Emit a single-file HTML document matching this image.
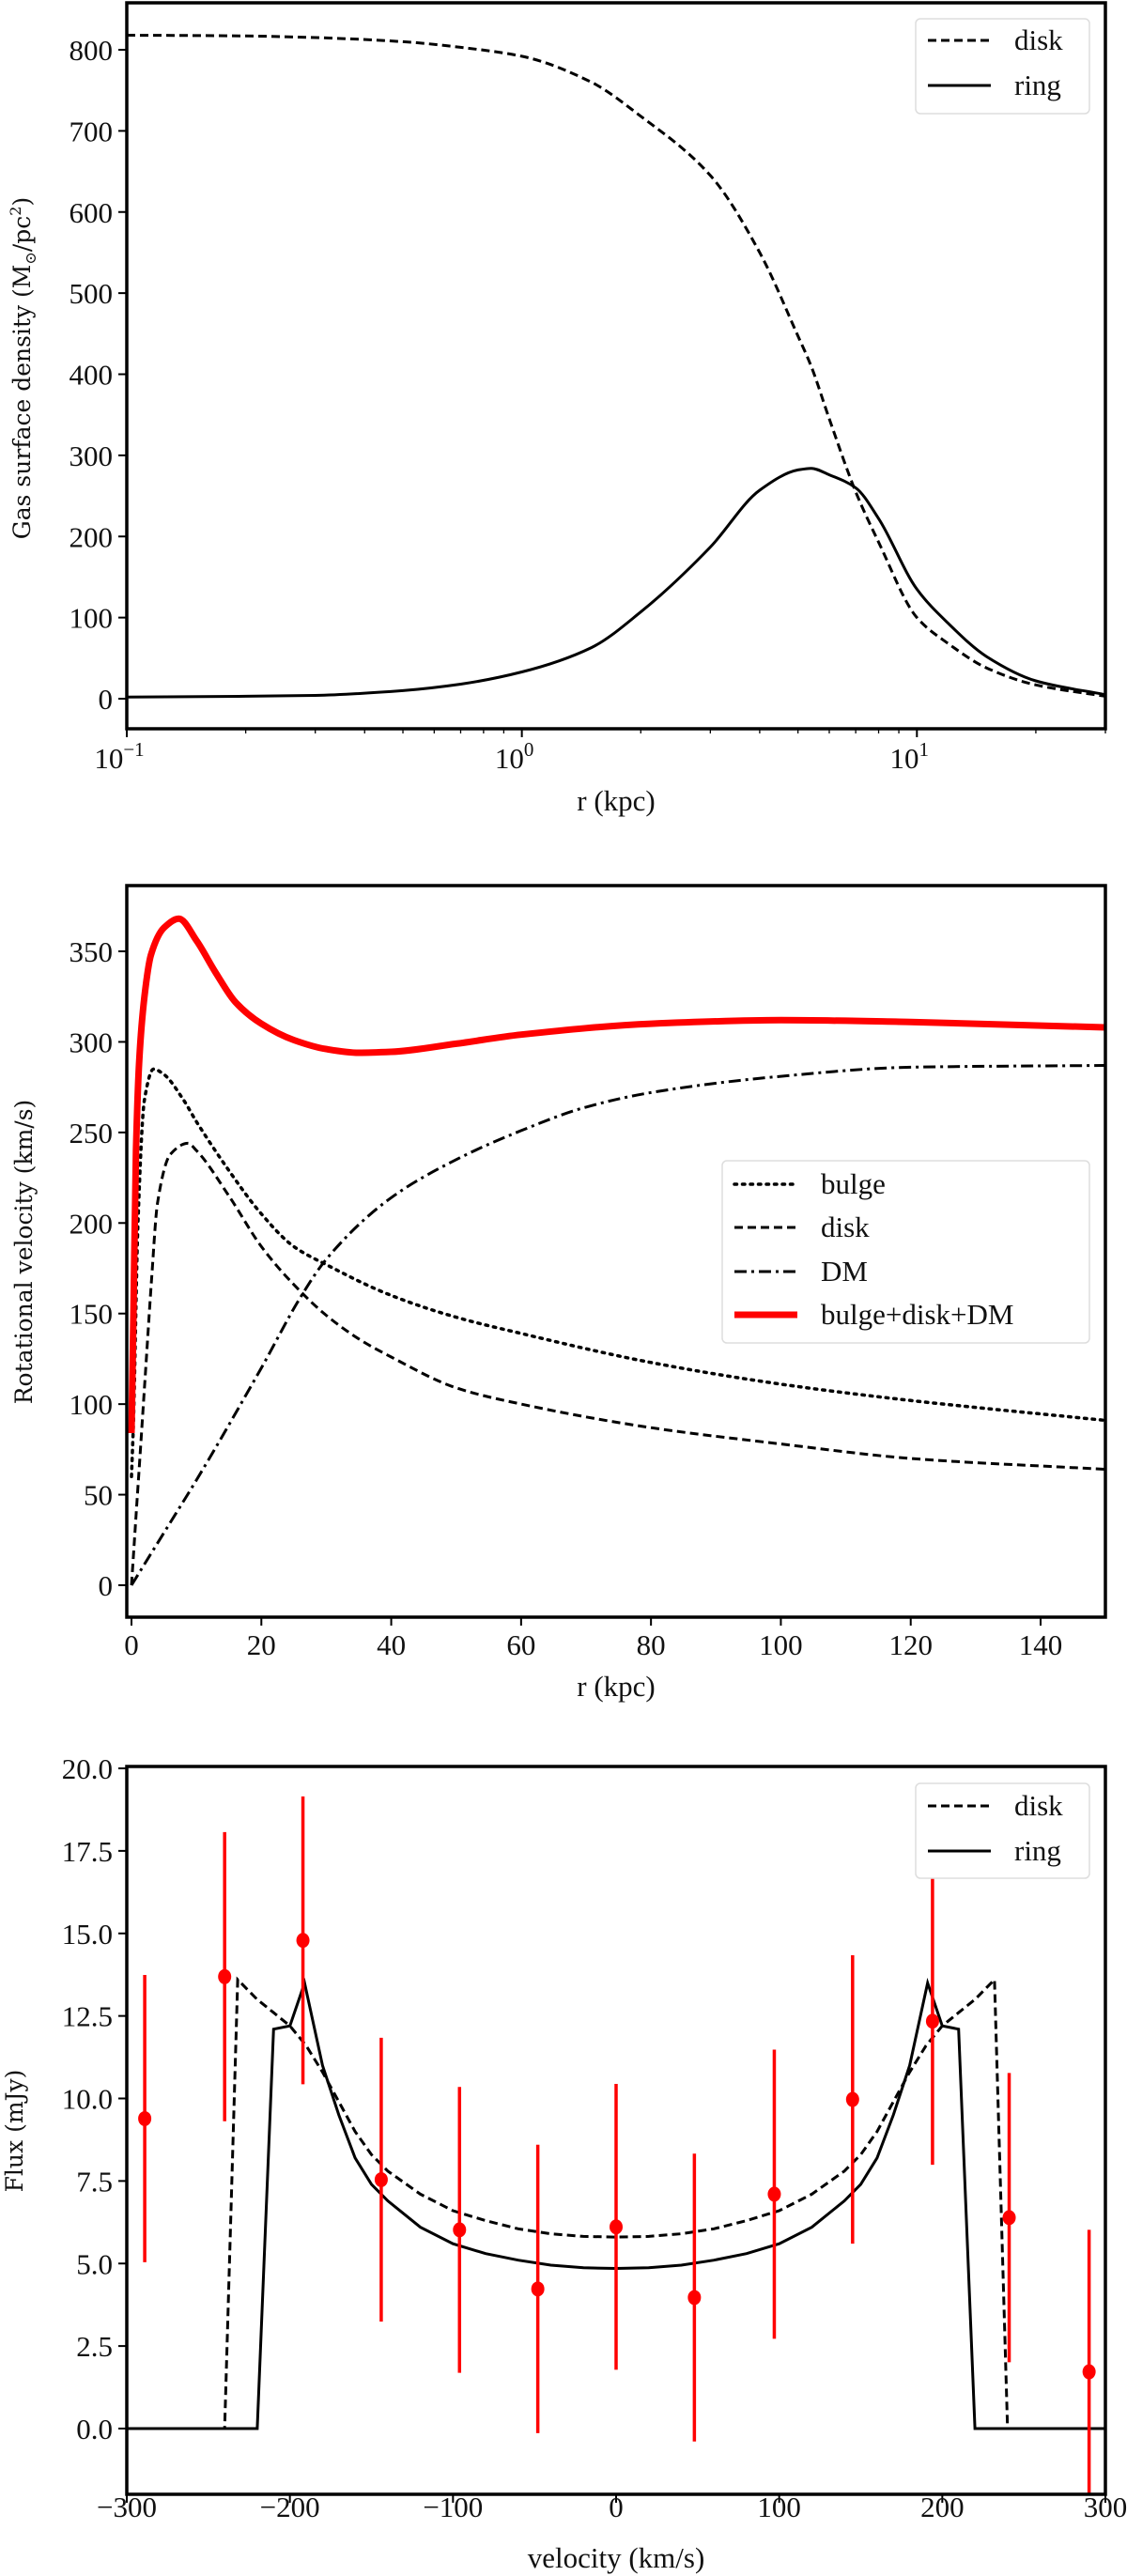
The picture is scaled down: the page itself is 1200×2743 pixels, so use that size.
<!DOCTYPE html>
<html><head><meta charset="utf-8"><style>
html,body{margin:0;padding:0;background:#fff}
svg{display:block}
text{font-family:"Liberation Serif","DejaVu Serif",serif;fill:#111}
.tk{font-size:31px}
.lab{font-family:"DejaVu Serif","Liberation Serif",serif;font-size:25px}
.xl{font-size:31px}
.lg{font-size:31px}
</style></head><body>
<svg id="fig" width="1200" height="2743" viewBox="0 0 1200 2743" xmlns="http://www.w3.org/2000/svg">
<rect width="1200" height="2743" fill="#fff"/>
<g id="p1"></g>
<g id="p2"></g>
<g id="p3"></g>
</svg>
<script>
// ---- Panel 1 data ----
const p1R = [0.1,0.2,0.3,0.5,0.7,1,1.5,2,3,4,5,5.4,6,7,8,10,12,15,20,30];
const p1Disk = [818,817,815,810,803,792,760,718,645,550,447,410,345,255,193,100,68,38,17,3];
const p1Ring = [2,3,4,10,18,33,63,107,187,257,282,284,276,260,222,135,93,52,22,5];
const p1YTicks = [0,100,200,300,400,500,600,700,800];
const p1XTickExp = [-1,0,1];
// ---- Panel 2 data ----
const p2R = [0,0.3,0.7,1.2,2,3,5,7.3,10,13,16,20,25,30,35,40,50,60,80,100,120,150];
const p2Total = [84,150,240,290,325,348,363,368,356,338,322,310,301,296,294,294.5,299,304,310,312,311,308];
const p2BulgeR = [0,0.3,1,2,3.4,5,8,10,15,20,25,30,40,50,60,80,100,120,150];
const p2Bulge = [60,90,200,268,285,282,268,256,229,205,187,177,160,148,139,123,111,102,91];
const p2DiskR = [0,0.9,2,3.1,4,6,8.7,10,15,20,25,30,35,40,50,60,80,100,120,150];
const p2Disk = [0,49,109,169,211,238,244,240,215,187,166,149,136,126,109,100,87,78,70,64];
const p2DMR = [0,5,10,20,26.2,30,40,50,60,70,80,100,120,150];
const p2DM = [0,29,58,120,160,180,214,235,251,264,272,281,286,287];
const p2YTicks = [0,50,100,150,200,250,300,350];
const p2XTicks = [0,20,40,60,80,100,120,140];
// ---- Panel 3 data ----
const p3V = [-289,-240,-192,-144,-96,-48,0,48,97,145,194,241,290];
const p3Flux = [9.39,13.69,14.79,7.54,6.02,4.23,6.11,3.97,7.1,9.97,12.34,6.39,1.72];
const p3Err = [4.35,4.38,4.36,4.3,4.33,4.37,4.33,4.36,4.38,4.37,4.35,4.38,4.3];
const p3DiskV = [-300,-240,-232,-220,-210,-200,-190,-180,-170,-160,-150,-140,-120,-100,-80,-60,-40,-20,0,20,40,60,80,100,120,140,150,160,170,180,190,200,210,220,232,240,300];
const p3Disk = [0,0,13.6,13.0,12.6,12.2,11.6,10.8,9.9,9.0,8.3,7.8,7.1,6.6,6.3,6.05,5.9,5.82,5.8,5.82,5.9,6.05,6.3,6.6,7.1,7.8,8.3,9.0,9.9,10.8,11.6,12.2,12.6,13.0,13.6,0,0];
const p3RingV = [-300,-220,-210,-200,-191,-180,-170,-160,-150,-140,-120,-100,-80,-60,-40,-20,0,20,40,60,80,100,120,140,150,160,170,180,191,200,210,220,300];
const p3Ring = [0,0,12.1,12.2,13.5,11.0,9.5,8.2,7.4,6.9,6.1,5.6,5.3,5.1,4.95,4.87,4.85,4.87,4.95,5.1,5.3,5.6,6.1,6.9,7.4,8.2,9.5,11.0,13.5,12.2,12.1,0,0];
const p3YTicks = [0,2.5,5,7.5,10,12.5,15,17.5,20];
const p3XTicks = [-300,-200,-100,0,100,200,300];

const NS = "http://www.w3.org/2000/svg";
function mk(parent, tag, attrs, txt){
  const e = document.createElementNS(NS, tag);
  for (const k in attrs) e.setAttribute(k, attrs[k]);
  if (txt !== undefined) e.textContent = txt;
  parent.appendChild(e); return e;
}
// monotone cubic (Fritsch-Carlson) in screen coords, sampled densely
function smoothPath(pts){
  const n=pts.length, xs=pts.map(p=>p[0]), ys=pts.map(p=>p[1]);
  const dx=[],s=[];
  for(let i=0;i<n-1;i++){dx.push(xs[i+1]-xs[i]); s.push((ys[i+1]-ys[i])/dx[i]);}
  const m=new Array(n);
  m[0]=s[0]; m[n-1]=s[n-2];
  for(let i=1;i<n-1;i++){
    if(s[i-1]*s[i]<=0) m[i]=0;
    else { const w1=2*dx[i]+dx[i-1], w2=dx[i]+2*dx[i-1]; m[i]=(w1+w2)/(w1/s[i-1]+w2/s[i]); }
  }
  let d="M"+xs[0].toFixed(1)+","+ys[0].toFixed(1);
  for(let i=0;i<n-1;i++){
    const h=dx[i];
    d+=" C"+(xs[i]+h/3).toFixed(1)+","+(ys[i]+m[i]*h/3).toFixed(1)+" "+(xs[i+1]-h/3).toFixed(1)+","+(ys[i+1]-m[i+1]*h/3).toFixed(1)+" "+xs[i+1].toFixed(1)+","+ys[i+1].toFixed(1);
  }
  return d;
}
function linePath(pts){ return pts.map((p,i)=>(i?"L":"M")+p[0].toFixed(1)+","+p[1].toFixed(1)).join(" "); }
function frame(g, L, T, R, B){
  const f = mk(g,"rect",{x:L,y:T,width:R-L,height:B-T,fill:"none",stroke:"#000","stroke-width":3.5});
  
  
}
function legend(g, x, y, w, h, entries, rowY){
  const box = mk(g,"rect",{x:x,y:y,width:w,height:h,rx:5,fill:"#fff",stroke:"#ddd","stroke-width":1.5});
  
  
  entries.forEach((en,i)=>{
    const ly=rowY[i];
    const ln = mk(g,"line",Object.assign({x1:x+13,x2:x+80,y1:ly,y2:ly,stroke:en.c},en.style));
    
    
    const t = mk(g,"text",{x:x+105,y:ly+10,class:"lg"},en.label);
    
    
  });
}
const DASH={"stroke-dasharray":"9,5","stroke-width":3,fill:"none"};
const SOLID={"stroke-width":3,fill:"none"};

// ===== Panel 1 =====
(function(){
  const g=document.getElementById("p1");
  const L=135,R=1177,T=3,B=776;
  const lx0=Math.log10(0.1), lx1=Math.log10(30);
  const X=v=>L+(Math.log10(v)-lx0)/(lx1-lx0)*(R-L);
  const Y=v=>744-v*(744-53)/800;
  p1YTicks.forEach(v=>{
    const tl=mk(g,"line",{x1:L-9,x2:L,y1:Y(v),y2:Y(v),stroke:"#000","stroke-width":2});
    
    
    const t=mk(g,"text",{x:L-15,y:Y(v)+11,"text-anchor":"end",class:"tk"},String(v));
    
    
  });
  for(let e=-1;e<=1;e++){for(let m=1;m<10;m++){const v=m*Math.pow(10,e); if(v>30) break;
    const mt=mk(g,"line",{x1:X(v),x2:X(v),y1:B,y2:B+(m===1?9:5),stroke:"#000","stroke-width":m===1?2:1.3});
    
    
  }}
  p1XTickExp.forEach(e=>{
    const t=mk(g,"text",{x:X(Math.pow(10,e))-8,y:818,"text-anchor":"middle",class:"tk"},"10");
    mk(t,"tspan",{dy:-13,"font-size":"21px"},e<0?"−"+(-e):String(e));
    
    
  });
  const pd=p1R.map((r,i)=>[X(r),Y(p1Disk[i])]);
  const pr=p1R.map((r,i)=>[X(r),Y(p1Ring[i])]);
  const a=mk(g,"path",Object.assign({d:smoothPath(pd),stroke:"#000"},DASH));
  
  
  const b=mk(g,"path",Object.assign({d:smoothPath(pr),stroke:"#000"},SOLID));
  
  
  frame(g,L,T,R,B);
  const xl=mk(g,"text",{x:656,y:863,"text-anchor":"middle",class:"xl"},"r (kpc)");
  
  
  const yl=mk(g,"text",{x:0,y:0,"text-anchor":"middle",class:"lab",transform:"translate(32,392) rotate(-90)"},"Gas surface density (M");
  mk(yl,"tspan",{"font-size":"16px",dy:6},"⊙");
  mk(yl,"tspan",{dy:-6},"/pc");
  mk(yl,"tspan",{"font-size":"16px",dy:-10},"2");
  mk(yl,"tspan",{dy:10},")");
  
  
  legend(g,975,20,185,101,[{id:"disk",label:"disk",c:"#000",style:DASH},{id:"ring",label:"ring",c:"#000",style:SOLID}],[43,91]);
})();

// ===== Panel 2 =====
(function(){
  const g=document.getElementById("p2");
  const L=135,R=1177,T=943,B=1722;
  const X=v=>140+v*(1108-140)/140;
  const Y=v=>1688-v*(1688-1013)/350;
  p2YTicks.forEach(v=>{
    const tl=mk(g,"line",{x1:L-9,x2:L,y1:Y(v),y2:Y(v),stroke:"#000","stroke-width":2});
    
    
    const t=mk(g,"text",{x:L-15,y:Y(v)+11,"text-anchor":"end",class:"tk"},String(v));
    
    
  });
  p2XTicks.forEach(v=>{
    const tl=mk(g,"line",{x1:X(v),x2:X(v),y1:B,y2:B+9,stroke:"#000","stroke-width":2});
    
    
    const t=mk(g,"text",{x:X(v),y:1762,"text-anchor":"middle",class:"tk"},String(v));
    
    
  });
  const clip=mk(g,"clipPath",{id:"c2"}); mk(clip,"rect",{x:L,y:T,width:R-L,height:B-T});
  const cg=mk(g,"g",{"clip-path":"url(#c2)"});
  const DOT={"stroke-dasharray":"2.5,6","stroke-width":3.5,"stroke-linecap":"round",fill:"none"};
  const DD={"stroke-dasharray":"13,5,3,5","stroke-width":3,fill:"none"};
  const RED={"stroke-width":7,fill:"none"};
  const s=[["bulge-curve",p2BulgeR,p2Bulge,"#000",DOT],["disk-curve",p2DiskR,p2Disk,"#000",DASH],["dm-curve",p2DMR,p2DM,"#000",DD],["total-curve",p2R,p2Total,"#ff0000",RED]];
  s.forEach(([n,xs,ys,c,st])=>{
    const pts=xs.map((r,i)=>[X(r),Y(ys[i])]);
    const p=mk(cg,"path",Object.assign({d:smoothPath(pts),stroke:c},st));
    
    
  });
  frame(g,L,T,R,B);
  const xl=mk(g,"text",{x:656,y:1806,"text-anchor":"middle",class:"xl"},"r (kpc)");
  
  
  const yl=mk(g,"text",{x:0,y:0,"text-anchor":"middle",class:"lab",transform:"translate(34,1333) rotate(-90)"},"Rotational velocity (km/s)");
  
  
  legend(g,769,1236,391,194,[{id:"bulge",label:"bulge",c:"#000",style:DOT},{id:"disk",label:"disk",c:"#000",style:DASH},{id:"dm",label:"DM",c:"#000",style:DD},{id:"total",label:"bulge+disk+DM",c:"#ff0000",style:{"stroke-width":7}}],[1261,1307,1354,1400]);
})();

// ===== Panel 3 =====
(function(){
  const g=document.getElementById("p3");
  const L=135,R=1177,T=1881,B=2656;
  const X=v=>L+(v+300)/600*(R-L);
  const Y=v=>2586-v*(2586-1883)/20;
  p3YTicks.forEach(v=>{
    const tl=mk(g,"line",{x1:L-9,x2:L,y1:Y(v),y2:Y(v),stroke:"#000","stroke-width":2});
    
    
    const t=mk(g,"text",{x:L-15,y:Y(v)+11,"text-anchor":"end",class:"tk"},v.toFixed(1));
    
    
  });
  p3XTicks.forEach(v=>{
    const tl=mk(g,"line",{x1:X(v),x2:X(v),y1:B,y2:B+9,stroke:"#000","stroke-width":2});
    
    
    const t=mk(g,"text",{x:X(v),y:2680,"text-anchor":"middle",class:"tk"},v<0?"−"+(-v):String(v));
    
    
  });
  const clip=mk(g,"clipPath",{id:"c3"}); mk(clip,"rect",{x:L,y:T,width:R-L,height:B-T});
  const cg=mk(g,"g",{"clip-path":"url(#c3)"});
  const d=mk(cg,"path",Object.assign({d:linePath(p3DiskV.map((v,i)=>[X(v),Y(p3Disk[i])])),stroke:"#000"},DASH));
  
  
  const r=mk(cg,"path",Object.assign({d:linePath(p3RingV.map((v,i)=>[X(v),Y(p3Ring[i])])),stroke:"#000"},SOLID));
  
  
  p3V.forEach((v,i)=>{
    const eb=mk(cg,"line",{x1:X(v),x2:X(v),y1:Y(p3Flux[i]+p3Err[i]),y2:Y(p3Flux[i]-p3Err[i]),stroke:"#ff0000","stroke-width":3.5});
    
    
    const pt=mk(cg,"ellipse",{cx:X(v),cy:Y(p3Flux[i]),rx:7,ry:8,fill:"#ff0000"});
    
    
  });
  frame(g,L,T,R,B);
  const xl=mk(g,"text",{x:656,y:2734,"text-anchor":"middle",class:"xl"},"velocity (km/s)");
  
  
  const yl=mk(g,"text",{x:0,y:0,"text-anchor":"middle",class:"lab",transform:"translate(24,2269) rotate(-90)"},"Flux (mJy)");
  
  
  legend(g,975,1899,185,101,[{id:"disk",label:"disk",c:"#000",style:DASH},{id:"ring",label:"ring",c:"#000",style:SOLID}],[1923,1971]);
})();
</script>
</body></html>
